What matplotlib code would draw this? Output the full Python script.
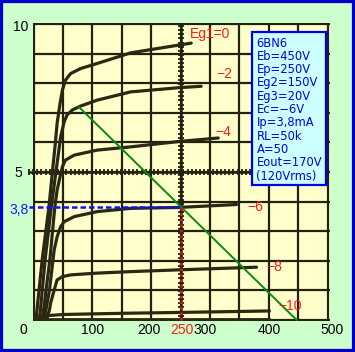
# 6BN6 plate characteristics with load line
import numpy as np
import matplotlib.pyplot as plt
from matplotlib.patches import Rectangle

# curves Ip (mA) vs Ep (V) for each Eg1
V0 = [4, 15, 26, 32, 37, 40, 45, 49, 54, 63, 80, 108, 165, 246, 268]
I0 = [0, 2.1, 3.8, 5.0, 5.98, 6.65, 7.32, 7.77, 8.1, 8.33, 8.5, 8.67, 9.03, 9.29, 9.36]
V2 = [10, 20, 30, 38, 43, 46, 52, 57, 66, 80, 108, 165, 246, 285]
I2 = [0, 2.1, 3.8, 5.0, 5.74, 6.19, 6.7, 6.93, 7.1, 7.23, 7.43, 7.71, 7.85, 7.9]
V4 = [15, 28, 36, 40, 45, 49, 54, 69, 108, 165, 246, 314]
I4 = [0, 2.1, 3.8, 4.39, 4.84, 5.18, 5.4, 5.57, 5.74, 5.85, 6.03, 6.15]
V6 = [18, 27, 35, 40, 46, 52, 69, 108, 165, 246, 345]
I6 = [0, 1.0, 2.36, 2.81, 3.15, 3.32, 3.49, 3.66, 3.77, 3.8, 3.9]
V8 = [22, 27, 29, 35, 40, 49, 63, 108, 165, 246, 379]
I8 = [0, 0.34, 0.57, 1.01, 1.35, 1.46, 1.52, 1.58, 1.63, 1.69, 1.78]
V10 = [8, 50, 150, 250, 401]
I10 = [0.12, 0.18, 0.22, 0.25, 0.3]
curves = [(V0, I0), (V2, I2), (V4, I4), (V6, I6), (V8, I8), (V10, I10)]

# curve labels
lab_txt = ['Eg1=0', '\u22122', '\u22124', '\u22126', '\u22128', '\u221210']
lab_v = [300, 325, 323, 377, 410, 437]
lab_i = [9.66, 8.31, 6.35, 3.82, 1.79, 0.47]

# load line and operating point
load_v = [77, 447]
load_i = [7.2, 0.0]
Ep = 250
Ip = 3.8

info = ['6BN6', 'Eb=450V', 'Ep=250V', 'Eg2=150V', 'Eg3=20V', 'Ec=\u22126V',
        'Ip=3,8mA', 'RL=50k', 'A=50', 'Eout=170V', '(120Vrms)']

ink = '#23220f'

fig = plt.figure(figsize=(3.55, 3.52), dpi=100, facecolor='#ccffcc')
ax = fig.add_axes([33/355, 1 - 321/352, 297/355, 298/352])
ax.set_facecolor('#ffffcc')
ax.set_xlim(-1, 504)
ax.set_ylim(-0.04, 10.04)
for s in ax.spines.values():
    s.set_visible(False)
ax.set_xticks(np.arange(0, 501, 50))
ax.set_yticks(np.arange(0, 11, 1))
ax.tick_params(length=0, labelbottom=False, labelleft=False)
ax.grid(True, color=ink, lw=1.6)

# scale lines with small ticks
tx = np.arange(-8, 500, 7.1)
ax.plot(tx, np.full_like(tx, 5.0), color=ink, lw=1.8, marker='|', ms=5, mew=1.3, clip_on=False, zorder=3)
ty = np.arange(0, 10, 0.14)
ax.plot(np.full_like(ty, Ep), ty, color=ink, lw=1.8, marker='_', ms=5, mew=1.3, zorder=3)

for v, i in curves:
    ax.plot(v, i, color='#2a2812', lw=2.3, solid_capstyle='round', solid_joinstyle='round', zorder=4)
ax.plot([0, 400], [0.02, 0.02], color='#2a2812', lw=2.0, zorder=4)

ax.plot(load_v, load_i, color='#0a8a0a', lw=1.4, zorder=5)
ax.plot([-8, Ep], [Ip, Ip], color='#1010ff', lw=1.8, ls=(0, (2.2, 1.2)), clip_on=False, zorder=6)
ax.plot([Ep, Ep], [0, Ip], color='#ff1010', lw=1.8, ls=(0, (1, 1.2)), zorder=6)

for t, v, i in zip(lab_txt, lab_v, lab_i):
    ax.text(v, i, t, color='#ff1a1a', fontsize=10, family='Liberation Sans',
            ha='center', va='center', zorder=7)

# axis numbers
xt = [(-17, '0', 'black'), (100, '100', 'black'), (196, '200', 'black'),
      (253, '250', '#ff1a1a'), (292, '300', 'black'), (400, '400', 'black'),
      (508, '500', 'black')]
for v, t, c in xt:
    ax.text(v, -0.34, t, color=c, fontsize=10, family='Liberation Sans',
            ha='center', va='center', clip_on=False)
ax.text(-8.5, 9.9, '10', fontsize=10, family='Liberation Sans', ha='right', va='center')
ax.text(-19, 4.97, '5', fontsize=10, family='Liberation Sans', ha='right', va='center')
ax.text(-8.5, 3.7, '3,8', color='#1a1aff', fontsize=10, family='Liberation Sans', ha='right', va='center')

# info box
ax.add_patch(Rectangle((371, 4.56), 126, 5.17, facecolor='#ccffff', edgecolor='#0000ee',
                       lw=1.6, zorder=8))
ax.text(379, 9.58, '\n'.join(info), color='#0000ee', fontsize=8.3, family='DejaVu Sans',
        ha='left', va='top', linespacing=1.03, zorder=9)

fig.patches.append(Rectangle((0, 0), 1, 1, transform=fig.transFigure, fill=False,
                             edgecolor='#0000cc', lw=4.5))
fig.savefig('out.png', dpi=100, facecolor=fig.get_facecolor())
